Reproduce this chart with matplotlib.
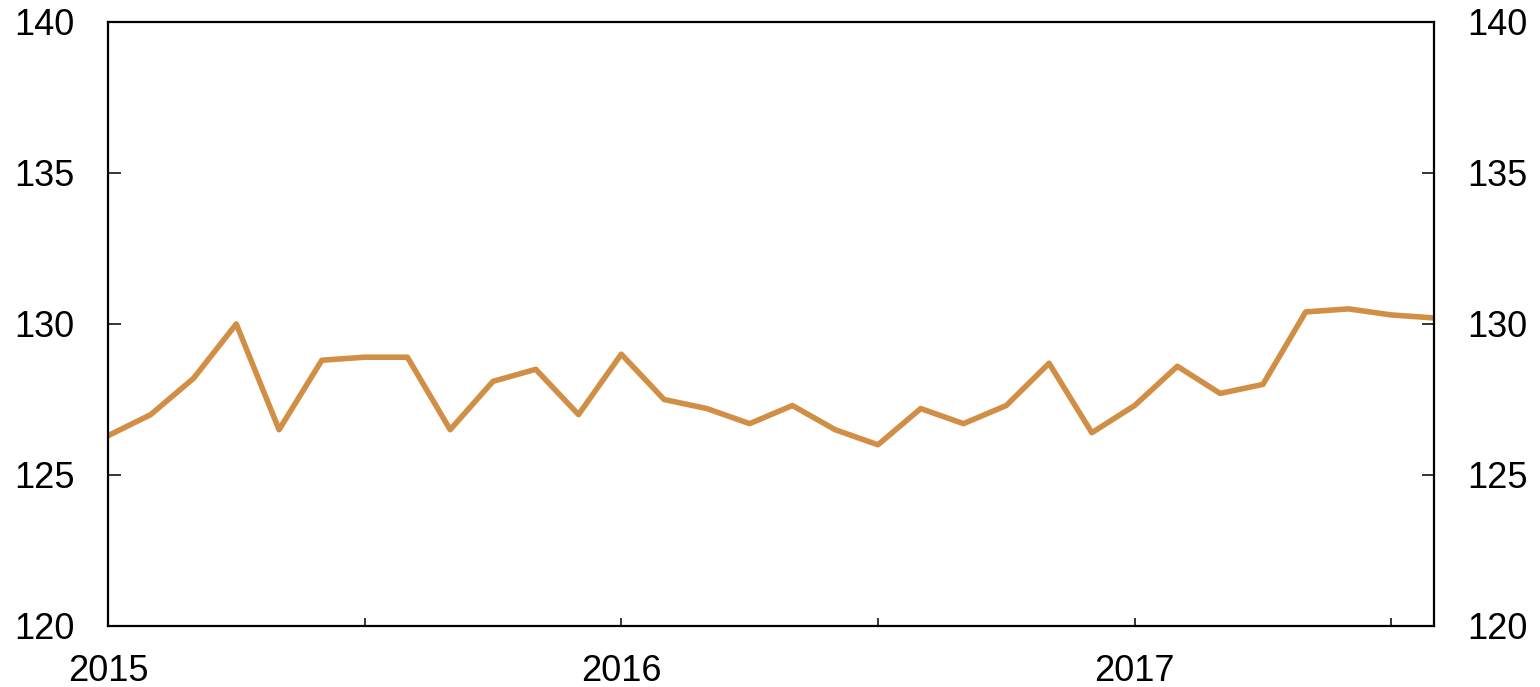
import matplotlib.pyplot as plt
import numpy as np

plt.rcParams['font.family'] = ['Liberation Sans', 'DejaVu Sans']

# monthly values, Jan 2015 - Aug 2017
values = [126.3, 127.0, 128.2, 130.0, 126.5, 128.8, 128.9, 128.9,
          126.5, 128.1, 128.5, 127.0, 129.0, 127.5, 127.2, 126.7,
          127.3, 126.5, 126.0, 127.2, 126.7, 127.3, 128.7, 126.4,
          127.3, 128.6, 127.7, 128.0, 130.4, 130.5, 130.3, 130.2]
start_year = 2015
y_ticks = [120, 125, 130, 135, 140]

x = start_year + np.arange(len(values)) / 12.0

fig = plt.figure(figsize=(15.4, 6.87), dpi=100)
ax = fig.add_axes([0.0701, 0.0888, 0.8611, 0.8792])

ax.plot(x, values, color="#D18E45", linewidth=4.0)

ax.set_xlim(x[0], x[-1])
ax.set_ylim(120, 140)

xt = np.arange(2015, 2018, 0.5)
ax.set_xticks(xt)
labels = []
for t in xt:
    labels.append(str(int(t)) if t == int(t) else "")
ax.set_xticklabels(labels)
ax.set_yticks(y_ticks)

ax.tick_params(axis="both", direction="in", width=1.1,
               labelsize=26, colors="black")
ax.tick_params(axis="y", right=True, labelright=True, length=9, pad=24)
ax.tick_params(axis="x", length=6, pad=20)

for s in ax.spines.values():
    s.set_linewidth(1.6)

fig.savefig("out.png", dpi=100)
